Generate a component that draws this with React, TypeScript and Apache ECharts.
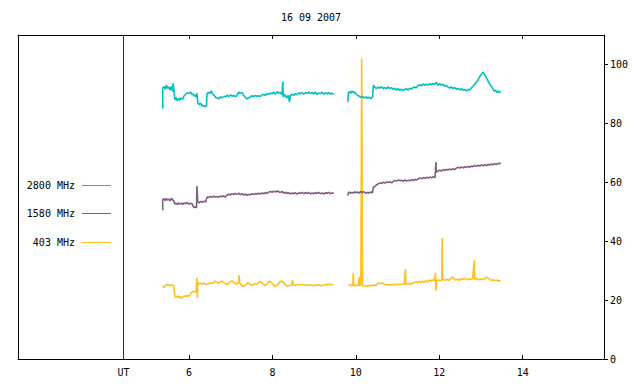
import React, { useEffect, useRef } from "react";
import * as echarts from "echarts";

const TITLE = "16 09 2007";
const X_TICKS = [6, 8, 10, 12, 14];
const UT_HOUR = 4.43;
const Y_TICKS = [0, 20, 40, 60, 80, 100];
const LEGEND_NAMES = ["2800 MHz", "1580 MHz", "403 MHz"];
const COLORS = ["#00c0c0", "#806080", "#ffc020"];

const f2800a: [number, number][] = [
  [5.37, 85], [5.37, 92], [5.4, 92.5], [5.43, 91.6], [5.46, 93.0], [5.49, 91.8], [5.52, 92.4], [5.55, 91.2], [5.58, 92.6], [5.61, 90.8], [5.62, 93.7], [5.64, 91.0],
  [5.66, 88.0], [5.69, 88.8], [5.72, 87.6], [5.75, 88.5], [5.78, 87.9], [5.81, 88.6], [5.85, 88.2], [5.88, 89.3], [5.92, 89.9], [5.96, 90.4], [6.0, 90.2], [6.04, 90.6],
  [6.07, 89.8], [6.1, 90.0], [6.13, 89.2], [6.16, 89.6], [6.18, 88.9], [6.19, 90.3], [6.21, 87.0], [6.24, 86.4], [6.28, 86.8], [6.31, 85.9], [6.34, 86.2], [6.37, 85.6],
  [6.4, 86.0], [6.42, 85.8], [6.43, 90.0], [6.46, 90.5], [6.5, 90.2], [6.53, 91.0], [6.57, 89.9], [6.6, 89.6], [6.64, 88.8], [6.68, 88.6], [6.72, 88.4], [6.76, 89.0],
  [6.8, 88.7], [6.84, 89.2], [6.88, 89.0], [6.92, 89.6], [6.96, 89.1], [7.0, 89.7], [7.04, 89.2], [7.08, 89.5], [7.12, 89.0], [7.16, 89.8], [7.2, 90.7], [7.23, 90.1],
  [7.27, 90.5], [7.31, 89.6], [7.35, 88.8], [7.39, 88.3], [7.43, 88.7], [7.47, 88.9], [7.51, 89.4], [7.55, 89.0], [7.59, 89.5], [7.63, 89.2], [7.67, 89.4], [7.71, 89.1],
  [7.75, 89.6], [7.79, 89.8], [7.83, 89.5], [7.87, 90.1], [7.91, 89.8], [7.95, 90.3], [7.99, 90.0], [8.03, 90.6], [8.07, 89.9], [8.11, 90.8], [8.15, 90.2], [8.19, 90.6],
  [8.23, 89.7], [8.25, 94.2], [8.26, 88.9], [8.3, 89.8], [8.34, 88.6], [8.38, 89.6], [8.41, 87.2], [8.43, 89.4], [8.47, 89.9], [8.51, 89.5], [8.55, 90.1], [8.59, 89.7],
  [8.63, 90.3], [8.67, 90.0], [8.71, 90.5], [8.75, 89.9], [8.79, 90.4], [8.83, 90.2], [8.87, 90.7], [8.91, 90.1], [8.95, 90.5], [8.99, 90.0], [9.03, 90.6], [9.07, 89.8],
  [9.11, 90.3], [9.15, 90.1], [9.19, 90.6], [9.23, 89.9], [9.27, 90.4], [9.31, 90.0], [9.35, 90.5], [9.39, 89.9], [9.43, 90.3], [9.47, 89.8],
];
const f2800b: [number, number][] = [
  [9.81, 87.2], [9.82, 90.2], [9.85, 90.8], [9.88, 90.2], [9.91, 91.0], [9.94, 90.4], [9.97, 90.7], [10.0, 90.0], [10.04, 89.6], [10.08, 89.2], [10.12, 88.8], [10.16, 89.2],
  [10.2, 88.6], [10.24, 89.0], [10.28, 88.5], [10.32, 88.9], [10.36, 88.4], [10.4, 88.9], [10.42, 92.9], [10.45, 92.4], [10.49, 91.8], [10.53, 92.3], [10.57, 91.9], [10.61, 92.5],
  [10.65, 91.8], [10.69, 92.2], [10.73, 91.7], [10.77, 92.4], [10.81, 91.9], [10.85, 92.1], [10.89, 91.6], [10.93, 91.9], [10.97, 91.3], [11.01, 91.8], [11.05, 91.2], [11.09, 91.6],
  [11.13, 91.1], [11.17, 91.5], [11.21, 91.8], [11.25, 91.3], [11.29, 91.9], [11.33, 91.6], [11.37, 92.1], [11.41, 92.4], [11.45, 92.0], [11.49, 92.8], [11.53, 93.1], [11.57, 92.7],
  [11.61, 93.4], [11.65, 92.9], [11.69, 93.3], [11.73, 93.0], [11.77, 93.5], [11.81, 93.1], [11.85, 93.6], [11.89, 93.2], [11.93, 94.0], [11.97, 92.9], [12.01, 93.5], [12.05, 93.0],
  [12.09, 93.3], [12.13, 92.6], [12.17, 92.9], [12.21, 92.3], [12.25, 92.0], [12.29, 92.4], [12.33, 91.8], [12.37, 92.2], [12.41, 91.6], [12.45, 91.9], [12.49, 91.4], [12.53, 91.8],
  [12.57, 91.2], [12.61, 91.5], [12.65, 91.0], [12.69, 91.6], [12.73, 91.3], [12.77, 92.0], [12.81, 92.6], [12.85, 93.3], [12.89, 94.0], [12.93, 94.8], [12.97, 95.8], [13.01, 96.6],
  [13.05, 97.4], [13.08, 96.8], [13.11, 96.0], [13.14, 95.2], [13.17, 94.3], [13.2, 93.6], [13.23, 92.9], [13.26, 92.4], [13.29, 91.6], [13.32, 90.9], [13.35, 91.3], [13.38, 90.5],
  [13.41, 91.0], [13.44, 90.4], [13.47, 90.8],
];
const f1580a: [number, number][] = [
  [5.37, 50.5], [5.37, 54.1], [5.4, 54.4], [5.43, 53.8], [5.46, 54.5], [5.49, 53.9], [5.52, 54.3], [5.55, 53.7], [5.58, 54.6], [5.61, 54.0], [5.64, 53.6], [5.66, 52.6],
  [5.69, 52.9], [5.72, 52.4], [5.75, 53.0], [5.78, 52.6], [5.81, 52.9], [5.85, 52.5], [5.88, 53.0], [5.92, 52.7], [5.96, 53.1], [6.0, 52.6], [6.04, 52.9], [6.07, 52.8],
  [6.1, 51.8], [6.13, 51.4], [6.16, 51.7], [6.18, 51.3], [6.19, 58.7], [6.21, 53.4], [6.24, 53.0], [6.28, 53.5], [6.32, 53.2], [6.36, 53.6], [6.4, 53.3], [6.43, 55.0],
  [6.47, 54.8], [6.51, 55.2], [6.55, 54.9], [6.59, 55.3], [6.63, 55.0], [6.67, 55.2], [6.71, 54.9], [6.75, 55.3], [6.79, 55.1], [6.83, 55.4], [6.87, 55.0], [6.91, 55.6],
  [6.95, 56.0], [6.99, 55.7], [7.03, 56.1], [7.07, 55.8], [7.11, 56.2], [7.15, 55.9], [7.19, 56.3], [7.23, 55.8], [7.27, 56.1], [7.31, 55.7], [7.35, 56.0], [7.39, 55.6],
  [7.43, 55.9], [7.47, 55.7], [7.51, 56.1], [7.55, 55.8], [7.59, 56.2], [7.63, 55.9], [7.67, 56.3], [7.71, 56.0], [7.75, 56.4], [7.79, 56.1], [7.83, 56.5], [7.87, 56.2],
  [7.91, 56.6], [7.95, 56.9], [7.99, 56.6], [8.03, 57.0], [8.07, 56.7], [8.11, 57.1], [8.15, 56.8], [8.19, 56.5], [8.23, 56.9], [8.27, 56.3], [8.31, 56.6], [8.35, 56.2],
  [8.39, 56.5], [8.43, 56.0], [8.47, 56.4], [8.51, 56.1], [8.55, 56.5], [8.59, 56.0], [8.63, 56.4], [8.67, 56.2], [8.71, 56.6], [8.75, 56.1], [8.79, 56.5], [8.83, 56.2],
  [8.87, 56.6], [8.91, 56.0], [8.95, 56.4], [8.99, 56.1], [9.03, 56.5], [9.07, 56.2], [9.11, 56.6], [9.15, 56.1], [9.19, 56.4], [9.23, 56.0], [9.27, 56.5], [9.31, 56.2],
  [9.35, 56.6], [9.39, 56.1], [9.43, 56.4], [9.47, 56.2],
];
const f1580b: [number, number][] = [
  [9.81, 55.5], [9.82, 56.4], [9.85, 56.7], [9.88, 56.2], [9.91, 56.6], [9.94, 56.3], [9.97, 56.8], [10.0, 56.4], [10.04, 56.7], [10.08, 56.3], [10.12, 56.9], [10.16, 56.5],
  [10.2, 56.8], [10.24, 56.2], [10.28, 56.6], [10.32, 56.3], [10.36, 56.7], [10.4, 56.4], [10.42, 58.4], [10.46, 58.6], [10.5, 59.1], [10.54, 59.5], [10.58, 59.8], [10.62, 59.6],
  [10.66, 60.0], [10.7, 59.7], [10.74, 60.1], [10.78, 59.9], [10.82, 60.2], [10.86, 59.8], [10.9, 60.3], [10.94, 60.6], [10.98, 60.4], [11.02, 60.8], [11.06, 60.5], [11.1, 60.7],
  [11.14, 60.3], [11.18, 60.8], [11.22, 60.4], [11.26, 60.7], [11.3, 60.5], [11.34, 60.9], [11.38, 60.6], [11.42, 61.0], [11.46, 60.8], [11.5, 61.2], [11.54, 61.5], [11.58, 61.2],
  [11.62, 61.6], [11.66, 61.3], [11.7, 61.7], [11.74, 61.4], [11.78, 61.8], [11.82, 61.5], [11.86, 61.9], [11.9, 61.6], [11.92, 66.9], [11.93, 63.5], [11.97, 63.8], [12.01, 64.1],
  [12.05, 63.8], [12.09, 64.3], [12.13, 64.0], [12.17, 64.4], [12.21, 64.1], [12.25, 64.5], [12.29, 64.2], [12.33, 64.6], [12.37, 64.3], [12.41, 64.8], [12.45, 65.1], [12.49, 64.8],
  [12.53, 65.2], [12.57, 64.9], [12.61, 65.3], [12.65, 65.0], [12.69, 65.4], [12.73, 65.1], [12.77, 65.5], [12.81, 65.3], [12.85, 65.7], [12.89, 65.4], [12.93, 65.8], [12.97, 65.5],
  [13.01, 65.9], [13.05, 65.6], [13.09, 66.0], [13.13, 65.7], [13.17, 66.1], [13.21, 65.8], [13.25, 66.2], [13.29, 65.9], [13.33, 66.3], [13.37, 66.0], [13.41, 66.5], [13.44, 66.2],
  [13.47, 66.6],
];
const f403a: [number, number][] = [
  [5.37, 24.7], [5.4, 24.3], [5.43, 24.9], [5.46, 25.3], [5.49, 25.0], [5.52, 25.2], [5.55, 24.8], [5.58, 25.1], [5.61, 25.0], [5.64, 24.9], [5.66, 21.2], [5.7, 21.0],
  [5.73, 21.5], [5.76, 20.8], [5.79, 21.2], [5.82, 20.6], [5.85, 21.0], [5.89, 21.4], [5.92, 21.1], [5.96, 21.6], [6.0, 21.3], [6.03, 21.8], [6.06, 22.6], [6.1, 23.0],
  [6.14, 22.7], [6.17, 22.9], [6.19, 27.6], [6.2, 20.7], [6.21, 26.0], [6.24, 25.5], [6.27, 25.7], [6.31, 25.4], [6.35, 25.8], [6.39, 25.5], [6.43, 25.3], [6.47, 25.6],
  [6.51, 25.9], [6.55, 25.6], [6.59, 26.0], [6.63, 26.4], [6.67, 26.1], [6.71, 25.7], [6.75, 26.2], [6.79, 26.5], [6.83, 26.0], [6.87, 25.6], [6.91, 25.3], [6.95, 25.7],
  [6.99, 26.2], [7.03, 26.5], [7.07, 26.1], [7.11, 25.6], [7.15, 25.4], [7.19, 25.9], [7.2, 28.5], [7.22, 25.8], [7.26, 25.0], [7.3, 24.6], [7.34, 24.9], [7.38, 25.5],
  [7.42, 25.9], [7.46, 25.4], [7.5, 24.9], [7.54, 25.2], [7.58, 25.6], [7.62, 25.3], [7.66, 25.8], [7.7, 26.3], [7.74, 26.0], [7.78, 25.4], [7.82, 24.9], [7.86, 25.3],
  [7.9, 26.0], [7.94, 26.4], [7.98, 25.9], [8.02, 25.3], [8.06, 24.6], [8.1, 24.9], [8.14, 25.5], [8.18, 26.1], [8.22, 26.5], [8.26, 26.0], [8.3, 25.4], [8.34, 24.9],
  [8.38, 24.8], [8.42, 25.0], [8.46, 25.1], [8.48, 26.8], [8.5, 25.2], [8.54, 25.0], [8.58, 25.2], [8.62, 25.3], [8.66, 25.1], [8.7, 25.3], [8.74, 25.1], [8.78, 25.0],
  [8.82, 25.1], [8.86, 25.0], [8.9, 25.2], [8.94, 25.0], [8.98, 24.9], [9.02, 25.1], [9.06, 25.0], [9.1, 25.2], [9.14, 25.0], [9.18, 24.9], [9.22, 25.1], [9.26, 25.2],
  [9.3, 25.3], [9.34, 25.4], [9.38, 25.3], [9.42, 25.2], [9.47, 25.1],
];
const f403b: [number, number][] = [
  [9.82, 25.0], [9.86, 25.2], [9.9, 24.9], [9.93, 25.1], [9.94, 29.3], [9.95, 24.8], [9.98, 25.0], [10.02, 25.1], [10.06, 24.9], [10.08, 27.9], [10.09, 25.0], [10.12, 25.1],
  [10.14, 102], [10.15, 102], [10.16, 24.9], [10.2, 24.8], [10.24, 24.7], [10.28, 24.9], [10.32, 24.8], [10.36, 25.0], [10.4, 24.9], [10.44, 25.1], [10.48, 25.0],
  [10.52, 25.6], [10.56, 25.8], [10.6, 25.5], [10.64, 25.8], [10.68, 25.4], [10.72, 25.3], [10.76, 25.2], [10.8, 25.3], [10.84, 25.2], [10.88, 25.3], [10.92, 25.2], [10.96, 25.4],
  [11.0, 25.3], [11.04, 25.4], [11.08, 25.3], [11.12, 25.4], [11.16, 25.5], [11.19, 30.5], [11.2, 25.4], [11.24, 25.5], [11.28, 25.6], [11.32, 25.5], [11.36, 25.7], [11.4, 25.9],
  [11.44, 26.3], [11.48, 25.8], [11.52, 26.4], [11.56, 25.9], [11.6, 26.5], [11.64, 26.0], [11.68, 26.6], [11.72, 26.1], [11.76, 26.9], [11.8, 26.3], [11.84, 27.0], [11.88, 26.4],
  [11.91, 29.3], [11.92, 23.2], [11.94, 26.6], [11.98, 26.8], [12.02, 26.5], [12.06, 26.9], [12.07, 41.1], [12.08, 26.8], [12.12, 27.0], [12.16, 26.7], [12.2, 27.1], [12.24, 26.6],
  [12.28, 27.4], [12.32, 27.8], [12.36, 27.2], [12.4, 26.8], [12.44, 27.1], [12.48, 26.7], [12.52, 27.3], [12.56, 27.0], [12.6, 27.4], [12.64, 27.1], [12.68, 26.9], [12.72, 27.3],
  [12.76, 27.0], [12.8, 27.2], [12.84, 33.6], [12.85, 27.0], [12.89, 27.4], [12.93, 27.1], [12.97, 26.9], [13.01, 27.3], [13.05, 26.9], [13.09, 27.2], [13.13, 27.8], [13.17, 27.5],
  [13.21, 27.0], [13.25, 26.7], [13.29, 26.9], [13.33, 26.6], [13.37, 26.8], [13.41, 26.5], [13.44, 26.7], [13.47, 26.4],
];

const SEGMENTS = [
  [f2800a, f2800b],
  [f1580a, f1580b],
  [f403a, f403b],
];

const FONT = "'DejaVu Sans Mono', monospace";

export default function App() {
  const ref = useRef<HTMLDivElement>(null);
  useEffect(() => {
    if (!ref.current) return;
    const chart = echarts.init(ref.current, undefined, { renderer: "svg" });
    const series: any[] = [];
    SEGMENTS.forEach((segs, i) => {
      segs.forEach((d) => {
        series.push({
          type: "line",
          name: LEGEND_NAMES[i],
          data: d,
          showSymbol: false,
          symbol: "none",
          yAxisIndex: 0,
          lineStyle: { color: COLORS[i], width: 1.6 },
          itemStyle: { color: COLORS[i] },
          silent: true,
          z: 3 - i,
        });
      });
    });
    series.push({
      type: "line",
      data: [],
      markLine: {
        silent: true,
        symbol: "none",
        label: { show: false },
        lineStyle: { color: "#a00000", type: "solid", width: 1 },
        data: [{ xAxis: UT_HOUR }],
      },
    });
    const legendGraphics: any[] = [];
    const legendY = [185, 213, 242];
    LEGEND_NAMES.forEach((n, i) => {
      legendGraphics.push({
        type: "text",
        x: 75,
        y: legendY[i],
        style: { text: n, fill: "#000", font: `10px ${FONT}`, align: "right", verticalAlign: "middle" },
      });
      legendGraphics.push({
        type: "rect",
        shape: { x: 82, y: legendY[i], width: 29, height: 1 },
        style: { fill: COLORS[i] },
      });
    });
    const xCommon = {
      type: "value",
      min: 1.9,
      max: 15.95,
      splitLine: { show: false },
    };
    chart.setOption({
      animation: false,
      backgroundColor: "#fff",
      grid: { left: 18, right: 36, top: 35, bottom: 25 },
      xAxis: [
        {
          ...xCommon,
          position: "bottom",
          axisLine: { show: true, onZero: false, lineStyle: { color: "#000", width: 1 } },
          axisTick: { show: true, inside: true, length: 4, customValues: X_TICKS, lineStyle: { color: "#000" } },
          axisLabel: {
            customValues: [UT_HOUR, ...X_TICKS],
            formatter: (v: number) => (v < 5 ? "UT" : String(v)),
            color: "#000",
            fontFamily: FONT,
            fontSize: 10,
            margin: 8,
          },
        },
        {
          ...xCommon,
          position: "top",
          axisLine: { show: true, onZero: false, lineStyle: { color: "#000", width: 1 } },
          axisTick: { show: true, inside: true, length: 4, customValues: X_TICKS, lineStyle: { color: "#000" } },
          axisLabel: { show: false },
        },
      ],
      yAxis: [
        {
          type: "value",
          position: "right",
          min: 0,
          max: 110,
          axisLine: { show: true, onZero: false, lineStyle: { color: "#000", width: 1 } },
          axisTick: { show: true, inside: false, length: 4, customValues: Y_TICKS, lineStyle: { color: "#000" } },
          axisLabel: { customValues: Y_TICKS, color: "#000", fontFamily: FONT, fontSize: 10, margin: 6 },
          splitLine: { show: false },
        },
        {
          type: "value",
          position: "left",
          min: 0,
          max: 110,
          axisLine: { show: true, onZero: false, lineStyle: { color: "#000", width: 1 } },
          axisTick: { show: false },
          axisLabel: { show: false },
          splitLine: { show: false },
        },
      ],
      graphic: [
        {
          type: "text",
          x: 311,
          y: 17,
          style: { text: TITLE, fill: "#000", font: `10px ${FONT}`, align: "center", verticalAlign: "middle" },
        },
        ...legendGraphics,
      ],
      series,
    });
    return () => chart.dispose();
  }, []);
  return <div ref={ref} style={{ position: "absolute", left: 0, top: 0, width: 640, height: 384 }} />;
}
